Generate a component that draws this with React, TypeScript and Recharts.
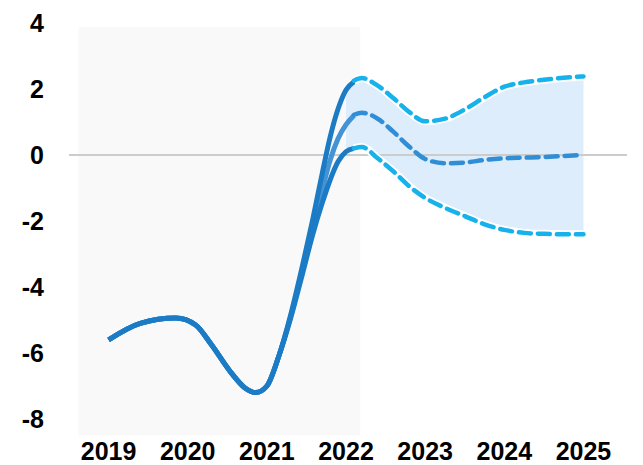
import {
  Area,
  ComposedChart,
  Line,
  ReferenceArea,
  ReferenceLine,
  XAxis,
  YAxis,
} from 'recharts'

// historical path, shared by all three variants until the split in 2021
const histYears = [2019.0, 2019.4, 2019.85, 2020.1, 2020.3, 2020.55, 2020.72, 2020.86, 2021.0, 2021.15]
const histValues = [-5.6, -5.1, -4.94, -5.15, -5.75, -6.6, -7.05, -7.2, -7.0, -6.1]

// the three estimates as they fan out
const splitYears = [2021.3, 2021.45, 2021.58, 2021.7, 2021.8, 2021.9, 2022.0, 2022.1]
const splitHigh = [-4.85, -3.35, -1.95, -0.55, 0.55, 1.4, 1.97, 2.22]
const splitMid = [-4.9, -3.5, -2.2, -1.05, -0.15, 0.5, 0.92, 1.2]
const splitLow = [-4.95, -3.6, -2.4, -1.45, -0.75, -0.2, 0.1, 0.2]

// projection (dashed) and its band
const projYears = [2022.1, 2022.2, 2022.4, 2022.6, 2022.8, 2023.0, 2023.25, 2023.5, 2023.75, 2024.0, 2024.25, 2024.5, 2024.75, 2025.0]
const projHigh = [2.25, 2.33, 2.1, 1.72, 1.3, 1.02, 1.1, 1.38, 1.75, 2.07, 2.2, 2.28, 2.34, 2.38]
const projMid = [1.22, 1.28, 1.1, 0.7, 0.25, -0.12, -0.25, -0.23, -0.15, -0.1, -0.08, -0.06, -0.03, 0.0]
const projLow = [0.2, 0.24, -0.1, -0.5, -0.95, -1.3, -1.6, -1.85, -2.1, -2.27, -2.36, -2.39, -2.4, -2.4]

const xTicks = [2019, 2020, 2021, 2022, 2023, 2024, 2025]
const yTicks = [-8, -6, -4, -2, 0, 2, 4]

const toPoints = (xs: number[], ys: number[]) => xs.map((x, i) => ({ x, y: ys[i] }))

const histHigh = toPoints([...histYears, ...splitYears], [...histValues, ...splitHigh])
const histMid = toPoints([...histYears, ...splitYears], [...histValues, ...splitMid])
const histLow = toPoints([...histYears, ...splitYears], [...histValues, ...splitLow])
const projHighPts = toPoints(projYears, projHigh)
const projMidPts = toPoints(projYears, projMid)
const projLowPts = toPoints(projYears, projLow)
const bandPts = [
  { x: 2022.0, range: [splitLow[6], splitHigh[6]] },
  ...projYears.map((x, i) => ({ x, range: [projLow[i], projHigh[i]] })),
]

const tickStyle = {
  fill: '#000',
  fontSize: 25,
  fontWeight: 700,
  fontFamily: '"Liberation Sans", Arial, sans-serif',
}

const DARK = '#1b7bc4'
const LIGHT = '#17b2ec'

export default function App() {
  return (
    <div style={{ position: 'absolute', left: 0, top: 0, background: '#fff' }}>
      <ComposedChart
        width={643}
        height={465}
        margin={{ top: 23, right: 16, bottom: 0, left: 0 }}
      >
        <XAxis
          dataKey="x"
          type="number"
          domain={[2018.5, 2025.55]}
          ticks={xTicks}
          allowDataOverflow
          axisLine={false}
          tickLine={false}
          tickSize={0}
          tickMargin={7}
          height={29.5}
          tick={tickStyle}
        />
        <YAxis
          type="number"
          domain={[-8.5, 4]}
          ticks={yTicks}
          allowDataOverflow
          axisLine={false}
          tickLine={false}
          tickSize={0}
          tickMargin={25}
          width={69}
          tick={tickStyle}
        />
        <ReferenceArea
          x1={2018.62}
          x2={2022.18}
          y1={-8.5}
          y2={3.88}
          fill="#f9f9f9"
          fillOpacity={1}
          stroke="none"
        />
        <Area
          data={bandPts}
          dataKey="range"
          type="monotone"
          fill="#ddedfc"
          fillOpacity={1}
          stroke="none"
          isAnimationActive={false}
        />
        <ReferenceLine y={0} stroke="#cccccc" strokeWidth={2} />
        <Line data={histMid} dataKey="y" type="monotone" stroke="#4493d4" strokeWidth={5} dot={false} isAnimationActive={false} />
        <Line data={histHigh} dataKey="y" type="monotone" stroke={DARK} strokeWidth={5} dot={false} isAnimationActive={false} />
        <Line data={histLow} dataKey="y" type="monotone" stroke={DARK} strokeWidth={5} dot={false} isAnimationActive={false} />
        <Line data={projHighPts} dataKey="y" type="monotone" stroke="#ffffff" strokeWidth={8} dot={false} isAnimationActive={false} />
        <Line data={projLowPts} dataKey="y" type="monotone" stroke="#ffffff" strokeWidth={8} dot={false} isAnimationActive={false} />
        <Line data={projHighPts} dataKey="y" type="monotone" stroke={LIGHT} strokeWidth={4.5} strokeDasharray="12 7" strokeLinecap="round" dot={false} isAnimationActive={false} />
        <Line data={projMidPts} dataKey="y" type="monotone" stroke="#2f8ed6" strokeWidth={4.5} strokeDasharray="12 7" strokeLinecap="round" dot={false} isAnimationActive={false} />
        <Line data={projLowPts} dataKey="y" type="monotone" stroke={LIGHT} strokeWidth={4.5} strokeDasharray="12 7" strokeLinecap="round" dot={false} isAnimationActive={false} />
      </ComposedChart>
    </div>
  )
}
